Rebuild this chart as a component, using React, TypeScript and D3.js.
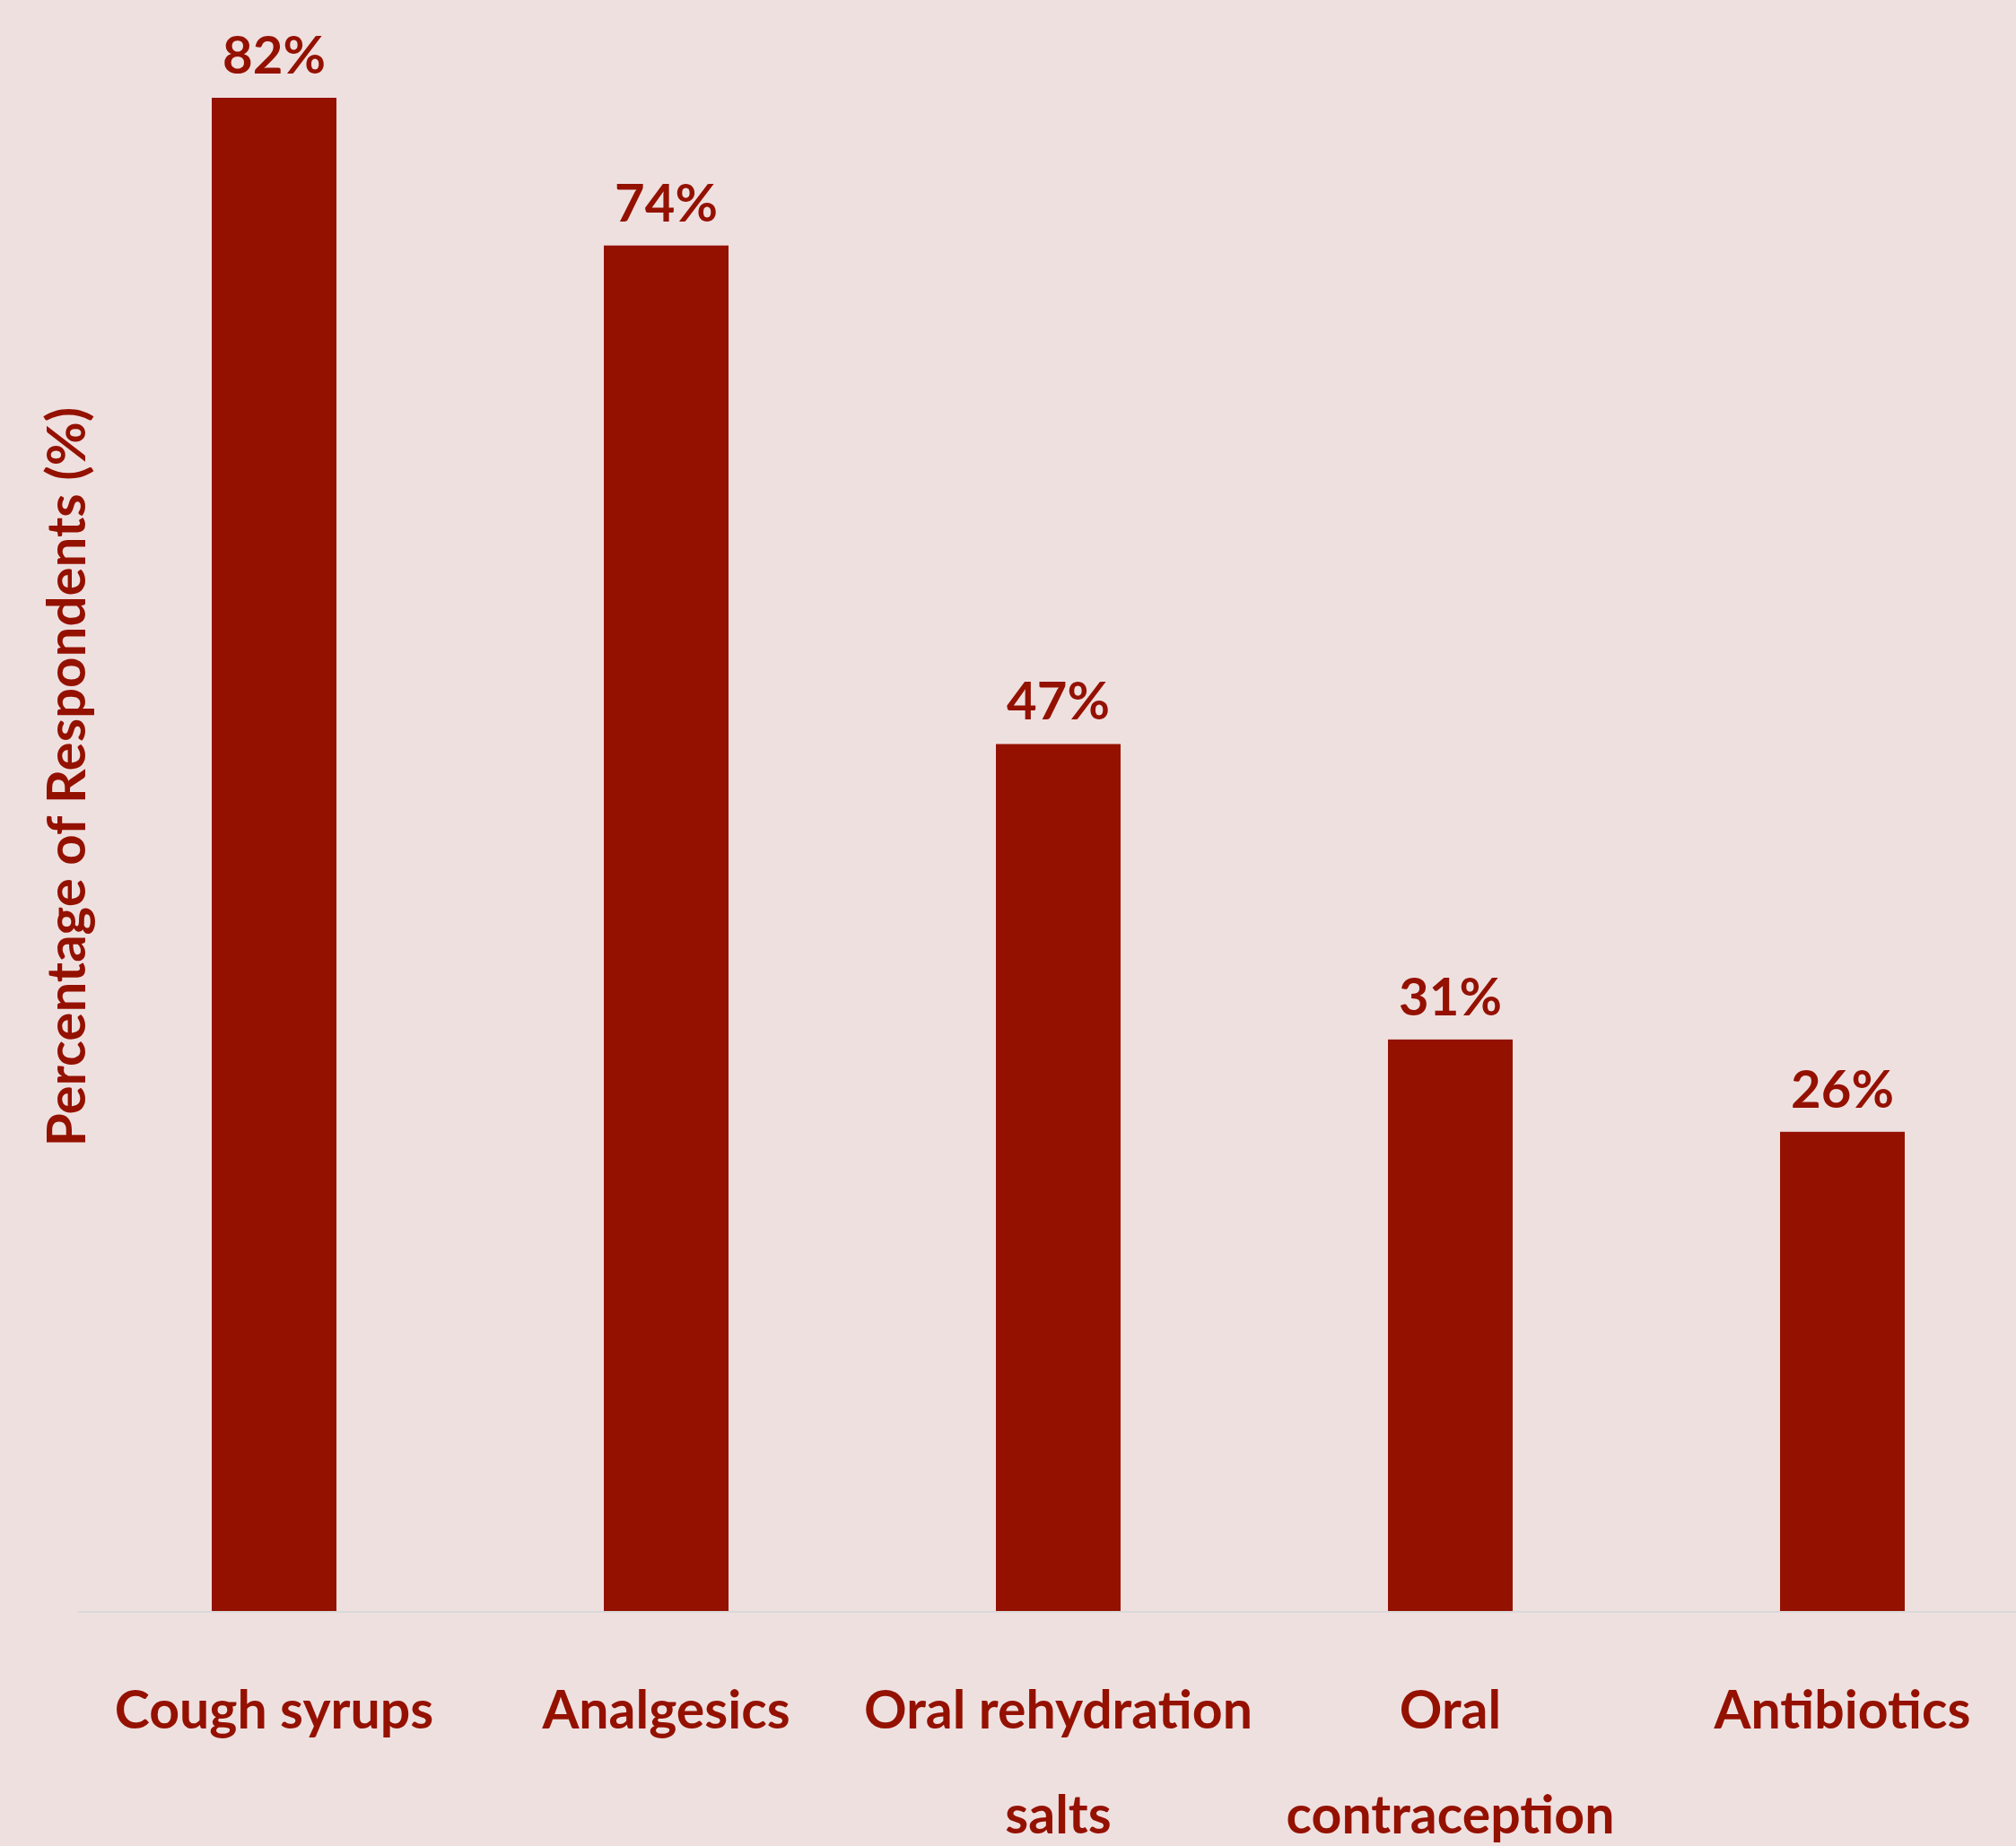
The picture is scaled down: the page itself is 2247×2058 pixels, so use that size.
import React from "react";
import * as d3 from "d3";

const categories = ["Cough syrups", "Analgesics", "Oral rehydration salts", "Oral contraception", "Antibiotics"];
const labelLines = [["Cough syrups"], ["Analgesics"], ["Oral rehydration", "salts"], ["Oral", "contraception"], ["Antibiotics"]];
const values = [82, 74, 47, 31, 26];
const yTitle = "Percentage of Respondents (%)";

const W = 2247;
const H = 2058;
const red = "#941100";
const font = "Lato, 'Open Sans', sans-serif";

export default function App() {
  const baseline = 1797;
  const left = 87;
  const step = 437;
  const x = d3.scaleBand<string>()
    .domain(categories)
    .range([left, left + step * categories.length])
    .paddingInner(0.682)
    .paddingOuter(0.341);
  const y = d3.scaleLinear().domain([0, 82]).range([baseline, 109]);

  return (
    <svg width={W} height={H} style={{ position: "absolute", left: 0, top: 0, display: "block" }}>
      <rect width={W} height={H} fill="#efe0e0" />
      {categories.map((c, i) => (
        <g key={c}>
          <rect x={x(c)} y={y(values[i])} width={x.bandwidth()} height={baseline - y(values[i])} fill={red} />
          <text
            x={x(c)! + x.bandwidth() / 2}
            y={y(values[i]) - 27}
            textAnchor="middle"
            fontFamily={font}
            fontWeight="bold"
            fontSize={58}
            fill={red}
          >
            {values[i]}%
          </text>
          {labelLines[i].map((line, j) => (
            <text
              key={j}
              x={x(c)! + x.bandwidth() / 2}
              y={1927 + j * 117}
              textAnchor="middle"
              fontFamily={font}
              fontWeight="bold"
              fontSize={59}
              fill={red}
            >
              {line}
            </text>
          ))}
        </g>
      ))}
      <line x1={left} x2={W} y1={baseline} y2={baseline} stroke="#d9d9d9" strokeWidth={2} />
      <text
        transform={`translate(95, 866) rotate(-90)`}
        textAnchor="middle"
        fontFamily={font}
        fontWeight="bold"
        fontSize={60}
        fill={red}
      >
        {yTitle}
      </text>
    </svg>
  );
}
